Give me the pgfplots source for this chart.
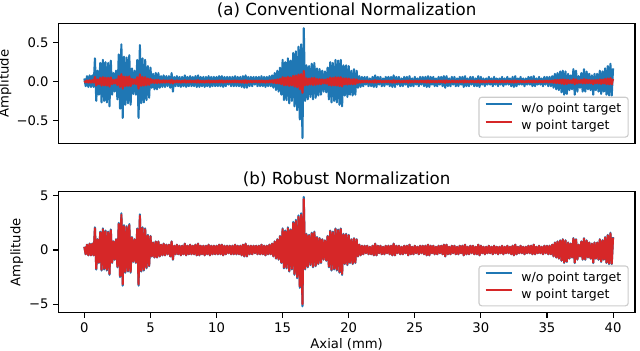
\documentclass[border=0pt]{standalone}
\usepackage{fontspec}
\setmainfont{DejaVu Sans}
\usepackage{pgfplots}
\usepackage{pgfplotstable}
\pgfplotsset{compat=1.18}
\definecolor{mplblue}{HTML}{1F77B4}
\definecolor{mplred}{HTML}{D62728}

% x: axial (mm); ta/tb: conventional (w/o, w); ba/bb: robust (w/o, w)
\pgfplotstableread{
x ta tb ba bb
0.0 0.04 0.008 0.3 0.29
0.1 -0.06 -0.011 -0.4 -0.38
0.2 0.07 0.014 0.5 0.48
0.3 -0.07 -0.014 -0.5 -0.48
0.4 0.08 0.017 0.6 0.57
0.5 -0.07 -0.014 -0.5 -0.48
0.6 0.08 0.017 0.6 0.57
0.7 -0.07 -0.014 -0.5 -0.48
0.8 0.30 0.059 2.1 2.01
0.9 -0.25 -0.050 -1.8 -1.72
1.0 0.14 0.028 1.0 0.96
1.1 -0.17 -0.034 -1.2 -1.15
1.2 0.24 0.048 1.7 1.63
1.3 -0.27 -0.053 -1.9 -1.82
1.4 0.28 0.056 2.0 1.92
1.5 -0.25 -0.050 -1.8 -1.72
1.6 0.25 0.050 1.8 1.72
1.7 -0.27 -0.053 -1.9 -1.82
1.8 0.24 0.048 1.7 1.63
1.9 -0.32 -0.064 -2.3 -2.20
2.0 0.27 0.053 1.9 1.82
2.1 -0.17 -0.034 -1.2 -1.15
2.2 0.11 0.022 0.8 0.77
2.3 -0.13 -0.025 -0.9 -0.86
2.4 0.14 0.028 1.0 0.96
2.5 -0.23 -0.045 -1.6 -1.53
2.6 0.35 0.070 2.5 2.40
2.7 -0.35 -0.070 -2.5 -2.40
2.8 0.48 0.095 3.4 3.26
2.9 -0.47 -0.092 -3.3 -3.17
3.0 0.32 0.064 2.3 2.20
3.1 -0.30 -0.059 -2.1 -2.01
3.2 0.31 0.062 2.2 2.11
3.3 -0.28 -0.056 -2.0 -1.92
3.4 0.34 0.067 2.4 2.30
3.5 -0.30 -0.059 -2.1 -2.01
3.6 0.17 0.034 1.2 1.15
3.7 -0.16 -0.031 -1.1 -1.05
3.8 0.14 0.028 1.0 0.96
3.9 -0.17 -0.034 -1.2 -1.15
4.0 0.28 0.056 2.0 1.92
4.1 -0.47 -0.092 -3.3 -3.17
4.2 0.47 0.092 3.3 3.17
4.3 -0.28 -0.056 -2.0 -1.92
4.4 0.30 0.059 2.1 2.01
4.5 -0.27 -0.053 -1.9 -1.82
4.6 0.28 0.056 2.0 1.92
4.7 -0.24 -0.048 -1.7 -1.63
4.8 0.20 0.039 1.4 1.34
4.9 -0.21 -0.042 -1.5 -1.44
5.0 0.18 0.036 1.3 1.25
5.1 -0.08 -0.017 -0.6 -0.57
5.2 0.10 0.020 0.7 0.67
5.3 -0.10 -0.020 -0.7 -0.67
5.4 0.11 0.022 0.8 0.77
5.5 -0.10 -0.020 -0.7 -0.67
5.6 0.11 0.022 0.8 0.77
5.7 -0.08 -0.017 -0.6 -0.57
5.8 0.07 0.014 0.5 0.48
5.9 -0.07 -0.014 -0.5 -0.48
6.0 0.08 0.017 0.6 0.57
6.1 -0.07 -0.014 -0.5 -0.48
6.2 0.07 0.014 0.5 0.48
6.3 -0.06 -0.011 -0.4 -0.38
6.4 0.07 0.014 0.5 0.48
6.5 -0.08 -0.017 -0.6 -0.57
6.6 0.11 0.022 0.8 0.77
6.7 -0.13 -0.025 -0.9 -0.86
6.8 0.06 0.011 0.4 0.38
6.9 -0.06 -0.011 -0.4 -0.38
7.0 0.07 0.014 0.5 0.48
7.1 -0.06 -0.011 -0.4 -0.38
7.2 0.06 0.011 0.4 0.38
7.3 -0.07 -0.014 -0.5 -0.48
7.4 0.06 0.011 0.4 0.38
7.5 -0.06 -0.011 -0.4 -0.38
7.6 0.08 0.017 0.6 0.57
7.7 -0.07 -0.014 -0.5 -0.48
7.8 0.06 0.011 0.4 0.38
7.9 -0.06 -0.011 -0.4 -0.38
8.0 0.07 0.014 0.5 0.48
8.1 -0.06 -0.011 -0.4 -0.38
8.2 0.06 0.011 0.4 0.38
8.3 -0.06 -0.011 -0.4 -0.38
8.4 0.07 0.014 0.5 0.48
8.5 -0.07 -0.014 -0.5 -0.48
8.6 0.08 0.017 0.6 0.57
8.7 -0.07 -0.014 -0.5 -0.48
8.8 0.06 0.011 0.4 0.38
8.9 -0.06 -0.011 -0.4 -0.38
9.0 0.06 0.011 0.4 0.38
9.1 -0.07 -0.014 -0.5 -0.48
9.2 0.06 0.011 0.4 0.38
9.3 -0.06 -0.011 -0.4 -0.38
9.4 0.07 0.014 0.5 0.48
9.5 -0.07 -0.014 -0.5 -0.48
9.6 0.06 0.011 0.4 0.38
9.7 -0.06 -0.011 -0.4 -0.38
9.8 0.06 0.011 0.4 0.38
9.9 -0.06 -0.011 -0.4 -0.38
10.0 0.06 0.011 0.4 0.38
10.1 -0.06 -0.011 -0.4 -0.38
10.2 0.07 0.014 0.5 0.48
10.3 -0.06 -0.011 -0.4 -0.38
10.4 0.07 0.014 0.5 0.48
10.5 -0.07 -0.014 -0.5 -0.48
10.6 0.06 0.011 0.4 0.38
10.7 -0.06 -0.011 -0.4 -0.38
10.8 0.06 0.011 0.4 0.38
10.9 -0.04 -0.008 -0.3 -0.29
11.0 0.06 0.011 0.4 0.38
11.1 -0.06 -0.011 -0.4 -0.38
11.2 0.06 0.011 0.4 0.38
11.3 -0.06 -0.011 -0.4 -0.38
11.4 0.07 0.014 0.5 0.48
11.5 -0.06 -0.011 -0.4 -0.38
11.6 0.06 0.011 0.4 0.38
11.7 -0.06 -0.011 -0.4 -0.38
11.8 0.06 0.011 0.4 0.38
11.9 -0.07 -0.014 -0.5 -0.48
12.0 0.07 0.014 0.5 0.48
12.1 -0.08 -0.017 -0.6 -0.57
12.2 0.08 0.017 0.6 0.57
12.3 -0.08 -0.017 -0.6 -0.57
12.4 0.06 0.011 0.4 0.38
12.5 -0.06 -0.011 -0.4 -0.38
12.6 0.06 0.011 0.4 0.38
12.7 -0.06 -0.011 -0.4 -0.38
12.8 0.06 0.011 0.4 0.38
12.9 -0.04 -0.008 -0.3 -0.29
13.0 0.06 0.011 0.4 0.38
13.1 -0.06 -0.011 -0.4 -0.38
13.2 0.06 0.011 0.4 0.38
13.3 -0.06 -0.011 -0.4 -0.38
13.4 0.07 0.014 0.5 0.48
13.5 -0.06 -0.011 -0.4 -0.38
13.6 0.06 0.011 0.4 0.38
13.7 -0.07 -0.014 -0.5 -0.48
13.8 0.06 0.011 0.4 0.38
13.9 -0.06 -0.011 -0.4 -0.38
14.0 0.07 0.014 0.5 0.48
14.1 -0.06 -0.011 -0.4 -0.38
14.2 0.08 0.017 0.6 0.57
14.3 -0.08 -0.017 -0.6 -0.57
14.4 0.11 0.022 0.8 0.77
14.5 -0.11 -0.022 -0.8 -0.77
14.6 0.14 0.028 1.0 0.96
14.7 -0.13 -0.025 -0.9 -0.86
14.8 0.18 0.036 1.3 1.25
14.9 -0.17 -0.034 -1.2 -1.15
15.0 0.28 0.056 2.0 1.92
15.1 -0.24 -0.048 -1.7 -1.63
15.2 0.25 0.050 1.8 1.72
15.3 -0.24 -0.048 -1.7 -1.63
15.4 0.30 0.059 2.1 2.01
15.5 -0.28 -0.056 -2.0 -1.92
15.6 0.27 0.053 1.9 1.82
15.7 -0.25 -0.050 -1.8 -1.72
15.8 0.37 0.073 2.6 2.49
15.9 -0.32 -0.064 -2.3 -2.20
16.0 0.39 0.078 2.8 2.68
16.1 -0.37 -0.073 -2.6 -2.49
16.2 0.45 0.090 3.2 3.07
16.3 -0.49 -0.098 -3.5 -3.36
16.4 0.48 0.095 3.4 3.26
16.5 -0.73 -0.146 -5.2 -5.00
16.6 0.69 0.137 4.9 4.70
16.7 -0.25 -0.050 -1.8 -1.72
16.8 0.21 0.042 1.5 1.44
16.9 -0.23 -0.045 -1.6 -1.53
17.0 0.20 0.039 1.4 1.34
17.1 -0.20 -0.039 -1.4 -1.34
17.2 0.23 0.045 1.6 1.53
17.3 -0.23 -0.045 -1.6 -1.53
17.4 0.24 0.048 1.7 1.63
17.5 -0.21 -0.042 -1.5 -1.44
17.6 0.17 0.034 1.2 1.15
17.7 -0.18 -0.036 -1.3 -1.25
17.8 0.16 0.031 1.1 1.05
17.9 -0.17 -0.034 -1.2 -1.15
18.0 0.14 0.028 1.0 0.96
18.1 -0.13 -0.025 -0.9 -0.86
18.2 0.13 0.025 0.9 0.86
18.3 -0.14 -0.028 -1.0 -0.96
18.4 0.18 0.036 1.3 1.25
18.5 -0.23 -0.045 -1.6 -1.53
18.6 0.25 0.050 1.8 1.72
18.7 -0.27 -0.053 -1.9 -1.82
18.8 0.24 0.048 1.7 1.63
18.9 -0.25 -0.050 -1.8 -1.72
19.0 0.28 0.056 2.0 1.92
19.1 -0.27 -0.053 -1.9 -1.82
19.2 0.27 0.053 1.9 1.82
19.3 -0.30 -0.059 -2.1 -2.01
19.4 0.28 0.056 2.0 1.92
19.5 -0.32 -0.064 -2.3 -2.20
19.6 0.21 0.042 1.5 1.44
19.7 -0.18 -0.036 -1.3 -1.25
19.8 0.21 0.042 1.5 1.44
19.9 -0.20 -0.039 -1.4 -1.34
20.0 0.20 0.039 1.4 1.34
20.1 -0.17 -0.034 -1.2 -1.15
20.2 0.14 0.028 1.0 0.96
20.3 -0.18 -0.036 -1.3 -1.25
20.4 0.16 0.031 1.1 1.05
20.5 -0.17 -0.034 -1.2 -1.15
20.6 0.14 0.028 1.0 0.96
20.7 -0.08 -0.017 -0.6 -0.57
20.8 0.07 0.014 0.5 0.48
20.9 -0.07 -0.014 -0.5 -0.48
21.0 0.06 0.011 0.4 0.38
21.1 -0.06 -0.011 -0.4 -0.38
21.2 0.06 0.011 0.4 0.38
21.3 -0.04 -0.008 -0.3 -0.29
21.4 0.06 0.011 0.4 0.38
21.5 -0.06 -0.011 -0.4 -0.38
21.6 0.04 0.008 0.3 0.29
21.7 -0.06 -0.011 -0.4 -0.38
21.8 0.06 0.011 0.4 0.38
21.9 -0.07 -0.014 -0.5 -0.48
22.0 0.08 0.017 0.6 0.57
22.1 -0.07 -0.014 -0.5 -0.48
22.2 0.06 0.011 0.4 0.38
22.3 -0.04 -0.008 -0.3 -0.29
22.4 0.06 0.011 0.4 0.38
22.5 -0.06 -0.011 -0.4 -0.38
22.6 0.04 0.008 0.3 0.29
22.7 -0.06 -0.011 -0.4 -0.38
22.8 0.06 0.011 0.4 0.38
22.9 -0.04 -0.008 -0.3 -0.29
23.0 0.06 0.011 0.4 0.38
23.1 -0.06 -0.011 -0.4 -0.38
23.2 0.06 0.011 0.4 0.38
23.3 -0.07 -0.014 -0.5 -0.48
23.4 0.08 0.017 0.6 0.57
23.5 -0.07 -0.014 -0.5 -0.48
23.6 0.06 0.011 0.4 0.38
23.7 -0.04 -0.008 -0.3 -0.29
23.8 0.06 0.011 0.4 0.38
23.9 -0.06 -0.011 -0.4 -0.38
24.0 0.04 0.008 0.3 0.29
24.1 -0.06 -0.011 -0.4 -0.38
24.2 0.06 0.011 0.4 0.38
24.3 -0.04 -0.008 -0.3 -0.29
24.4 0.06 0.011 0.4 0.38
24.5 -0.07 -0.014 -0.5 -0.48
24.6 0.07 0.014 0.5 0.48
24.7 -0.06 -0.011 -0.4 -0.38
24.8 0.04 0.008 0.3 0.29
24.9 -0.06 -0.011 -0.4 -0.38
25.0 0.06 0.011 0.4 0.38
25.1 -0.04 -0.008 -0.3 -0.29
25.2 0.04 0.008 0.3 0.29
25.3 -0.06 -0.011 -0.4 -0.38
25.4 0.06 0.011 0.4 0.38
25.5 -0.04 -0.008 -0.3 -0.29
25.6 0.06 0.011 0.4 0.38
25.7 -0.06 -0.011 -0.4 -0.38
25.8 0.06 0.011 0.4 0.38
25.9 -0.07 -0.014 -0.5 -0.48
26.0 0.07 0.014 0.5 0.48
26.1 -0.07 -0.014 -0.5 -0.48
26.2 0.06 0.011 0.4 0.38
26.3 -0.04 -0.008 -0.3 -0.29
26.4 0.06 0.011 0.4 0.38
26.5 -0.06 -0.011 -0.4 -0.38
26.6 0.04 0.008 0.3 0.29
26.7 -0.06 -0.011 -0.4 -0.38
26.8 0.06 0.011 0.4 0.38
26.9 -0.04 -0.008 -0.3 -0.29
27.0 0.06 0.011 0.4 0.38
27.1 -0.06 -0.011 -0.4 -0.38
27.2 0.07 0.014 0.5 0.48
27.3 -0.08 -0.017 -0.6 -0.57
27.4 0.07 0.014 0.5 0.48
27.5 -0.06 -0.011 -0.4 -0.38
27.6 0.04 0.008 0.3 0.29
27.7 -0.06 -0.011 -0.4 -0.38
27.8 0.06 0.011 0.4 0.38
27.9 -0.04 -0.008 -0.3 -0.29
28.0 0.06 0.011 0.4 0.38
28.1 -0.06 -0.011 -0.4 -0.38
28.2 0.04 0.008 0.3 0.29
28.3 -0.06 -0.011 -0.4 -0.38
28.4 0.06 0.011 0.4 0.38
28.5 -0.04 -0.008 -0.3 -0.29
28.6 0.06 0.011 0.4 0.38
28.7 -0.07 -0.014 -0.5 -0.48
28.8 0.07 0.014 0.5 0.48
28.9 -0.06 -0.011 -0.4 -0.38
29.0 0.04 0.008 0.3 0.29
29.1 -0.06 -0.011 -0.4 -0.38
29.2 0.06 0.011 0.4 0.38
29.3 -0.04 -0.008 -0.3 -0.29
29.4 0.06 0.011 0.4 0.38
29.5 -0.06 -0.011 -0.4 -0.38
29.6 0.04 0.008 0.3 0.29
29.7 -0.06 -0.011 -0.4 -0.38
29.8 0.07 0.014 0.5 0.48
29.9 -0.07 -0.014 -0.5 -0.48
30.0 0.06 0.011 0.4 0.38
30.1 -0.04 -0.008 -0.3 -0.29
30.2 0.04 0.008 0.3 0.29
30.3 -0.06 -0.011 -0.4 -0.38
30.4 0.04 0.008 0.3 0.29
30.5 -0.04 -0.008 -0.3 -0.29
30.6 0.06 0.011 0.4 0.38
30.7 -0.04 -0.008 -0.3 -0.29
30.8 0.04 0.008 0.3 0.29
30.9 -0.06 -0.011 -0.4 -0.38
31.0 0.06 0.011 0.4 0.38
31.1 -0.04 -0.008 -0.3 -0.29
31.2 0.04 0.008 0.3 0.29
31.3 -0.06 -0.011 -0.4 -0.38
31.4 0.04 0.008 0.3 0.29
31.5 -0.04 -0.008 -0.3 -0.29
31.6 0.06 0.011 0.4 0.38
31.7 -0.06 -0.011 -0.4 -0.38
31.8 0.04 0.008 0.3 0.29
31.9 -0.04 -0.008 -0.3 -0.29
32.0 0.06 0.011 0.4 0.38
32.1 -0.04 -0.008 -0.3 -0.29
32.2 0.04 0.008 0.3 0.29
32.3 -0.06 -0.011 -0.4 -0.38
32.4 0.06 0.011 0.4 0.38
32.5 -0.07 -0.014 -0.5 -0.48
32.6 0.07 0.014 0.5 0.48
32.7 -0.06 -0.011 -0.4 -0.38
32.8 0.04 0.008 0.3 0.29
32.9 -0.04 -0.008 -0.3 -0.29
33.0 0.06 0.011 0.4 0.38
33.1 -0.04 -0.008 -0.3 -0.29
33.2 0.04 0.008 0.3 0.29
33.3 -0.06 -0.011 -0.4 -0.38
33.4 0.04 0.008 0.3 0.29
33.5 -0.04 -0.008 -0.3 -0.29
33.6 0.06 0.011 0.4 0.38
33.7 -0.04 -0.008 -0.3 -0.29
33.8 0.06 0.011 0.4 0.38
33.9 -0.06 -0.011 -0.4 -0.38
34.0 0.07 0.014 0.5 0.48
34.1 -0.06 -0.011 -0.4 -0.38
34.2 0.04 0.008 0.3 0.29
34.3 -0.04 -0.008 -0.3 -0.29
34.4 0.06 0.011 0.4 0.38
34.5 -0.04 -0.008 -0.3 -0.29
34.6 0.04 0.008 0.3 0.29
34.7 -0.06 -0.011 -0.4 -0.38
34.8 0.06 0.011 0.4 0.38
34.9 -0.04 -0.008 -0.3 -0.29
35.0 0.06 0.011 0.4 0.38
35.1 -0.06 -0.011 -0.4 -0.38
35.2 0.06 0.011 0.4 0.38
35.3 -0.06 -0.011 -0.4 -0.38
35.4 0.07 0.014 0.5 0.48
35.5 -0.08 -0.017 -0.6 -0.57
35.6 0.10 0.020 0.7 0.67
35.7 -0.10 -0.020 -0.7 -0.67
35.8 0.11 0.022 0.8 0.77
35.9 -0.11 -0.022 -0.8 -0.77
36.0 0.13 0.025 0.9 0.86
36.1 -0.14 -0.028 -1.0 -0.96
36.2 0.14 0.028 1.0 0.96
36.3 -0.17 -0.034 -1.2 -1.15
36.4 0.13 0.025 0.9 0.86
36.5 -0.16 -0.031 -1.1 -1.05
36.6 0.10 0.020 0.7 0.67
36.7 -0.11 -0.022 -0.8 -0.77
36.8 0.08 0.017 0.6 0.57
36.9 -0.10 -0.020 -0.7 -0.67
37.0 0.16 0.031 1.1 1.05
37.1 -0.17 -0.034 -1.2 -1.15
37.2 0.14 0.028 1.0 0.96
37.3 -0.13 -0.025 -0.9 -0.86
37.4 0.07 0.014 0.5 0.48
37.5 -0.08 -0.017 -0.6 -0.57
37.6 0.11 0.022 0.8 0.77
37.7 -0.13 -0.025 -0.9 -0.86
37.8 0.16 0.031 1.1 1.05
37.9 -0.13 -0.025 -0.9 -0.86
38.0 0.13 0.025 0.9 0.86
38.1 -0.10 -0.020 -0.7 -0.67
38.2 0.10 0.020 0.7 0.67
38.3 -0.11 -0.022 -0.8 -0.77
38.4 0.08 0.017 0.6 0.57
38.5 -0.17 -0.034 -1.2 -1.15
38.6 0.10 0.020 0.7 0.67
38.7 -0.11 -0.022 -0.8 -0.77
38.8 0.10 0.020 0.7 0.67
38.9 -0.13 -0.025 -0.9 -0.86
39.0 0.14 0.028 1.0 0.96
39.1 -0.16 -0.031 -1.1 -1.05
39.2 0.13 0.025 0.9 0.86
39.3 -0.13 -0.025 -0.9 -0.86
39.4 0.17 0.034 1.2 1.15
39.5 -0.17 -0.034 -1.2 -1.15
39.6 0.20 0.039 1.4 1.34
39.7 -0.18 -0.036 -1.3 -1.25
39.8 0.23 0.045 1.6 1.53
39.9 -0.18 -0.036 -1.3 -1.25
40.0 0.17 0.034 1.2 1.15
}\sig

\pgfplotsset{
  sigaxis/.style={
    scale only axis, width=415.2pt, height=87pt,
    xmin=-1.97, xmax=41.66,
    xtick={0,5,...,40},
    tick align=outside, tick pos=left,
    major tick length=3.5pt,
    every tick/.style={black, line width=0.8pt},
    axis line style={line width=0.8pt},
    ticklabel style={font=\fontsize{9.5}{10}\selectfont},
    /pgf/number format/assume math mode=true,
    title style={font=\fontsize{12}{14}\selectfont, at={(0.5,1)}, anchor=base, yshift=-0.5pt},
    legend cell align=left,
    legend image code/.code={\draw[##1, line width=1.5pt] (0pt,0.3em) -- (19pt,0.3em);},
    legend style={at={(1,0)}, anchor=south east, xshift=-4.5pt, yshift=4.5pt,
      draw=black!20, line width=0.8pt, rounded corners=2pt, fill=white, fill opacity=0.8,
      text opacity=1, font=\fontsize{9}{10}\selectfont,
      inner xsep=4pt, inner ysep=3pt, row sep=2pt,
      nodes={inner sep=1pt}, column sep=5pt},
    every axis plot/.append style={line width=1.5pt, line join=round},
    axis on top,
  },
}

\begin{document}
\begin{tikzpicture}
\path[use as bounding box] (-42pt,-27.6pt) rectangle (418.8pt,225.1pt);
\begin{axis}[sigaxis, at={(0pt,121.5pt)},
  ymin=-0.805, ymax=0.755,
  ytick={-0.5,0,0.5}, yticklabels={−0.5,0.0,0.5},
  xtick=\empty,
  title={(a) Conventional Normalization},
  ylabel={Amplitude},
  ylabel style={font=\fontsize{9.5}{10}\selectfont, at={(axis description cs:-0.081,0.5)}, anchor=south, inner sep=0pt},
]
\addplot[mplblue] table[x=x, y=ta]{\sig};
\addlegendentry{w/o point target}
\addplot[mplred] table[x=x, y=tb]{\sig};
\addlegendentry{w point target}
\end{axis}
\begin{axis}[sigaxis, at={(0pt,0pt)},
  ymin=-5.79, ymax=5.38,
  ytick={-5,0,5}, yticklabels={−5,0,5},
  title={(b) Robust Normalization},
  xlabel={Axial (mm)},
  xlabel style={font=\fontsize{9.5}{10}\selectfont, at={(axis description cs:0.5,-0.209)}, anchor=north, inner sep=0pt},
  ylabel={Amplitude},
  ylabel style={font=\fontsize{9.5}{10}\selectfont, at={(axis description cs:-0.0607,0.5)}, anchor=south, inner sep=0pt},
]
\addplot[mplblue] table[x=x, y=ba]{\sig};
\addlegendentry{w/o point target}
\addplot[mplred] table[x=x, y=bb]{\sig};
\addlegendentry{w point target}
\end{axis}
\end{tikzpicture}
\end{document}
